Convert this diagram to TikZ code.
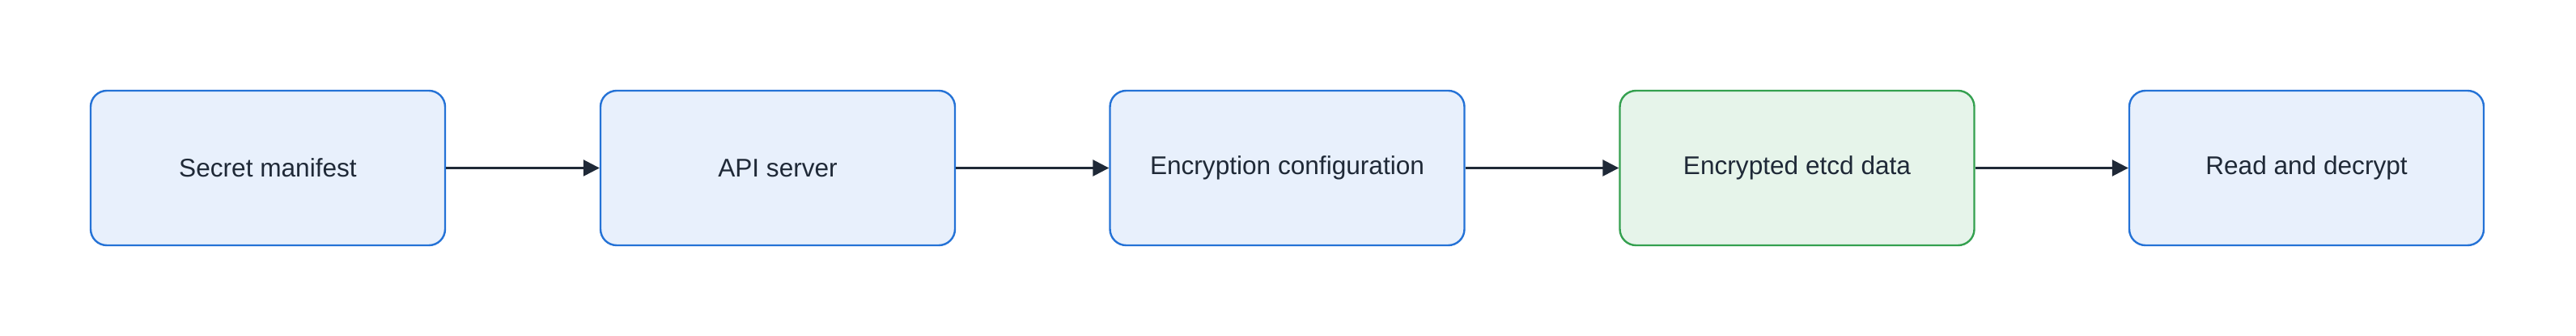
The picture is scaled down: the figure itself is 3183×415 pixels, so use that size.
\documentclass[tikz,border=0pt]{standalone}
\usepackage{fontspec}
\setmainfont{Liberation Sans}
\usetikzlibrary{arrows.meta}
\definecolor{bluefill}{HTML}{E8F0FC}
\definecolor{blueline}{HTML}{2472D6}
\definecolor{greenfill}{HTML}{E6F4EA}
\definecolor{greenline}{HTML}{34A04F}
\definecolor{arrowcol}{HTML}{1F2937}
\tikzset{
  box/.style={draw=blueline, fill=bluefill, line width=1.2pt, rounded corners=10pt,
    minimum width=219pt, minimum height=95.5pt, inner sep=0pt,
    font=\fontsize{15.8pt}{19pt}\selectfont, text=arrowcol},
  greenbox/.style={box, draw=greenline, fill=greenfill},
  flow/.style={draw=arrowcol, line width=1.3pt, -{Triangle[length=10pt,width=10pt]}}
}
\begin{document}
\begin{tikzpicture}[x=0.5pt,y=0.5pt]
\useasboundingbox (0,0) rectangle (3183,-415);
\node[box] (a) at (331,-207.5) {Secret manifest};
\node[box] (b) at (961,-207.5) {API server};
\node[box] (c) at (1590.5,-207.5) {Encryption configuration};
\node[greenbox] (d) at (2220.5,-207.5) {Encrypted etcd data};
\node[box] (e) at (2850,-207.5) {Read and decrypt};
\draw[flow] (a) -- (b);
\draw[flow] (b) -- (c);
\draw[flow] (c) -- (d);
\draw[flow] (d) -- (e);
\end{tikzpicture}
\end{document}
